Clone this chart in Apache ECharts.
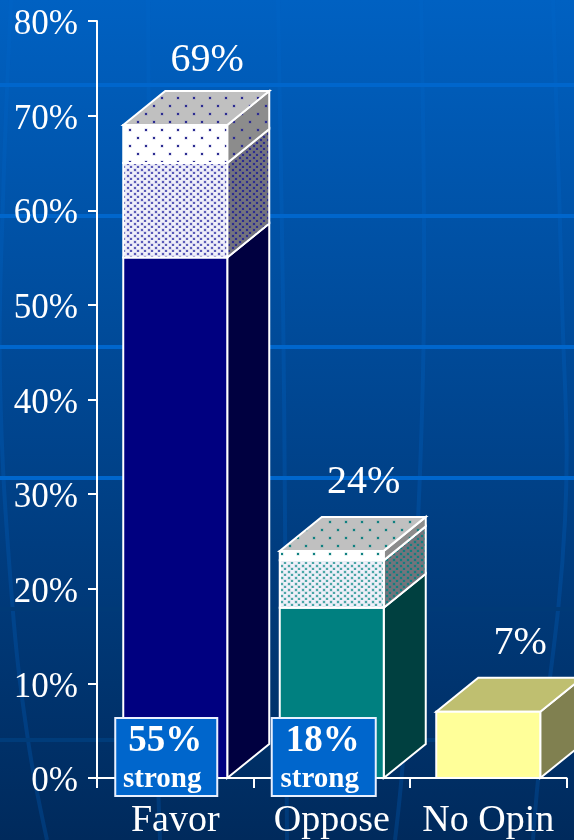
<!DOCTYPE html>
<html><head><meta charset="utf-8">
<style>html,body{margin:0;padding:0;background:#003f80}#c{width:574px;height:840px}</style>
<script src="https://cdn.jsdelivr.net/npm/echarts@6/dist/echarts.min.js"></script>
</head><body><div id="c"></div>
<script>
const categories = ['Favor','Oppose','No Opin'];
const strongValues = [55,18,7];
const midValues = [65,23,7];
const totalValues = [69,24,7];
const totalLabels = ['69%','24%','7%'];
const boxValues = ['55%','18%'];

const FONT = '"Liberation Serif","Times New Roman",serif';
const palette = [
  {front:'#000080',side:'#000040',dot:'#2c2c90',fine:'#5a5ab8',halo:'rgba(60,60,170,0.25)'},
  {front:'#008080',side:'#004040',dot:'#108080',fine:'#4aa6a6',halo:'rgba(0,128,128,0.25)'},
  {front:'#ffff99',side:'#808050',top:'#bfbf70',dot:'#888',fine:'#888',halo:'rgba(0,0,0,0)'}
];
function pattern(bg,dot,halo,w,h){
  const c=document.createElement('canvas');c.width=w;c.height=h;
  const x=c.getContext('2d');x.fillStyle=bg;x.fillRect(0,0,w,h);
  [[1,1],[1+Math.floor(w/2),1+Math.floor(h/2)]].forEach(d=>{
    x.fillStyle=halo;x.fillRect(d[0]-.5,d[1]-.5,3,3);
    x.fillStyle=dot;x.fillRect(d[0],d[1],2,2);
  });
  return {image:c,repeat:'repeat'};
}
const patterns=palette.map(p=>({
  midFront:pattern('#f0f0fa',p.fine,p.halo,7,6),
  midSide:pattern('#74747c',p.dot,p.halo,7,6),
  topFront:pattern('#ffffff',p.dot,p.halo,16,16),
  topSide:pattern('#8c8c8c',p.dot,p.halo,16,16),
  topTop:pattern('#c0c0c0',p.dot,p.halo,16,16)
}));
const DX=42,DY=34,BW=104;
const line={stroke:'#fff',lineWidth:2,lineJoin:'miter'};
function poly(pts,fill){return {type:'polygon',shape:{points:pts},style:Object.assign({fill},line)};}

function renderBar(params,api){
  const i=api.value(0);
  const x0=api.coord([i,0])[0]-BW/2, x1=x0+BW;
  const y=v=>api.coord([i,v])[1];
  const yb=y(0), ys=y(api.value(1)), ym=y(api.value(2)), yt=y(api.value(3));
  const p=palette[i], pt=patterns[i], ch=[];
  const side=(a,b,f)=>poly([[x1,a],[x1+DX,a-DY],[x1+DX,b-DY],[x1,b]],f);
  const front=(a,b,f)=>poly([[x0,a],[x1,a],[x1,b],[x0,b]],f);
  ch.push(side(yb,ys,p.side));
  if(ym<ys-.5) ch.push(side(ys,ym,pt.midSide));
  if(yt<ym-.5) ch.push(side(ym,yt,pt.topSide));
  ch.push(poly([[x0,yt],[x1,yt],[x1+DX,yt-DY],[x0+DX,yt-DY]], p.top||pt.topTop));
  ch.push(front(yb,ys,p.front));
  if(ym<ys-.5) ch.push(front(ys,ym,pt.midFront));
  if(yt<ym-.5) ch.push(front(ym,yt,pt.topFront));
  return {type:'group',children:ch};
}
const labelGap=[65,68,68];
function renderTotal(params,api){
  const i=api.value(0);
  const c=api.coord([i,api.value(1)]);
  return {type:'text',x:c[0]+32,y:c[1]-labelGap[i],style:{text:totalLabels[i],fill:'#fff',font:'40px '+FONT,textAlign:'center',textVerticalAlign:'middle'}};
}
const boxW=[102,104];
function renderBox(params,api){
  const i=api.value(0);
  const c=api.coord([i,0]);
  const x=c[0]-60,y=c[1]-60,w=boxW[i],h=78;
  return {type:'group',children:[
    {type:'rect',shape:{x,y,width:w,height:h},style:{fill:'#0066cc',stroke:'#e8f0ff',lineWidth:2}},
    {type:'text',x:x+w/2-1,y:y+23,style:{text:boxValues[i],fill:'#fff',font:'bold 37px '+FONT,textAlign:'center',textVerticalAlign:'middle'}},
    {type:'text',x:x+w/2-4,y:y+62,style:{text:'strong',fill:'#fff',font:'bold 29px '+FONT,textAlign:'center',textVerticalAlign:'middle'}}
  ]};
}
const bgLines=[];
[
 [[11,0],[3,200],[0,380],[12,600],[28,740],[47,840]],
 [[148,0],[150,300],[153,600],[160,840]],
 [[278,0],[283,300],[285,520],[287,840]],
 [[421,0],[424,300],[418,520],[403,760],[395,840]],
 [[553,0],[562,300],[565,520],[538,780],[533,840]]
].forEach(pts=>bgLines.push({type:'polyline',silent:true,z:-11,shape:{points:pts,smooth:.4},style:{fill:'none',stroke:'#0066cc',opacity:.25,lineWidth:4}}));
[[85,'#0066cc'],[216,'#0066cc'],[347,'#0066cc'],[478,'#0066cc'],[609,'#003a77'],[740,'#003c7a']].forEach(b=>bgLines.push({type:'rect',silent:true,z:-10,shape:{x:0,y:b[0]-2,width:574,height:4},style:{fill:b[1]}}));

const chart=echarts.init(document.getElementById('c'),null,{renderer:'canvas'});
chart.setOption({
  animation:false,
  backgroundColor:{type:'linear',x:0,y:0,x2:0,y2:1,colorStops:[{offset:0,color:'#0061c2'},{offset:.5,color:'#00458f'},{offset:1,color:'#002a5c'}]},
  graphic:bgLines,
  grid:{left:97,top:21,width:469.5,height:758,containLabel:false},
  xAxis:{type:'category',data:categories,boundaryGap:true,
    axisLine:{lineStyle:{color:'#fff',width:2}},
    axisTick:{show:true,alignWithLabel:false,length:10,lineStyle:{color:'#fff',width:2}},
    axisLabel:{color:'#fff',fontFamily:FONT,fontSize:38,margin:24,interval:0},splitLine:{show:false}},
  yAxis:{type:'value',min:0,max:80,interval:10,
    axisLine:{show:true,lineStyle:{color:'#fff',width:2}},
    axisTick:{show:true,length:9,lineStyle:{color:'#fff',width:2}},
    axisLabel:{margin:19,formatter:v=>'{a|'+v+'%}',
      rich:{a:{color:'#fff',fontFamily:FONT,fontSize:35,padding:[8,0,0,0]}}},
    splitLine:{show:false}},
  series:[
    {type:'custom',clip:false,z:3,renderItem:renderBar,encode:{x:0,y:3},
      data:categories.map((c,i)=>[i,strongValues[i],midValues[i],totalValues[i]])},
    {type:'custom',clip:false,z:4,renderItem:renderTotal,encode:{x:0,y:1},
      data:categories.map((c,i)=>[i,totalValues[i]])},
    {type:'custom',clip:false,z:5,renderItem:renderBox,encode:{x:0,y:1},
      data:boxValues.map((c,i)=>[i,parseInt(c)])}
  ]
});
</script></body></html>
